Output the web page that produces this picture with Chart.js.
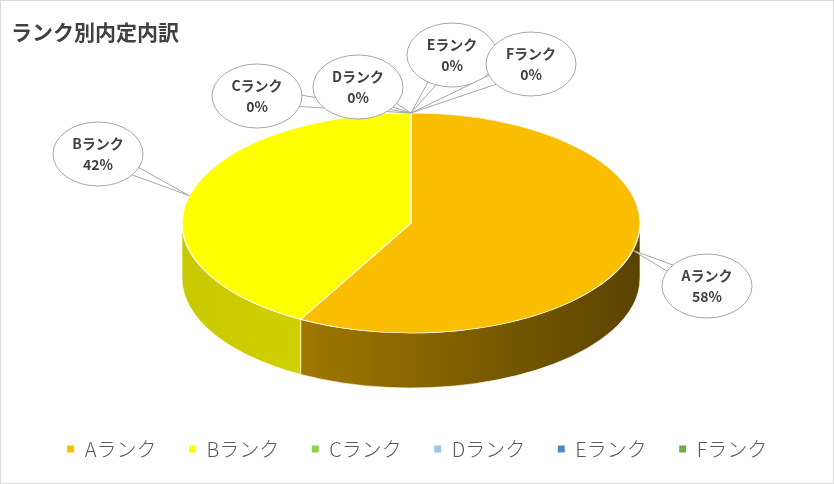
<!DOCTYPE html>
<html><head><meta charset="utf-8">
<script src="https://cdn.jsdelivr.net/npm/chart.js@4.4.1/dist/chart.umd.min.js"></script>
<style>
  html,body{margin:0;padding:0;background:#fff;}
  #wrap{position:relative;width:832px;height:482px;border:1px solid #d9d9d9;}
</style></head>
<body>
<div id="wrap"><canvas id="c" width="832" height="482"></canvas></div>
<script>
// ranks and share (%)
const categories = ["Aランク", "Bランク", "Cランク", "Dランク", "Eランク", "Fランク"];
const shares = [58, 42, 0, 0, 0, 0];
const colors = ["#fabd00", "#ffff00", "#92d050", "#9dc3e6", "#4f87c5", "#70ad47"];
const labelSpots = [[706, 285], [97, 153], [256, 95], [357, 86], [451, 54], [530, 63]];

const CX = 410, CY = 222, RX = 229, RY = 110, DEPTH = 55;
const sideColors = [["#b88a00", "#5a4300"], ["#c8c800", "#e6e600"]];

function pt(a, dy) { return [CX + RX * Math.cos(a), CY + RY * Math.sin(a) + (dy || 0)]; }

const pie3d = {
  id: "pie3d",
  beforeDatasetsDraw(chart) {
    const ctx = chart.ctx;
    const arcs = chart.getDatasetMeta(0).data;
    // side walls (front half only)
    arcs.forEach((el, i) => {
      const s = Math.max(el.startAngle, 0), e = Math.min(el.endAngle, Math.PI);
      if (e <= s) return;
      const g = ctx.createLinearGradient(CX - RX, 0, CX + RX, 0);
      const sc = sideColors[i] || [colors[i], colors[i]];
      g.addColorStop(0, sc[0]); g.addColorStop(1, sc[1]);
      ctx.save();
      ctx.beginPath();
      ctx.ellipse(CX, CY, RX, RY, 0, s, e);
      ctx.ellipse(CX, CY + DEPTH, RX, RY, 0, e, s, true);
      ctx.closePath();
      ctx.fillStyle = g; ctx.fill();
      ctx.strokeStyle = "rgba(255,255,255,0.6)"; ctx.lineWidth = 1; ctx.stroke();
      ctx.restore();
    });
    // top face, squashed into an ellipse
    arcs.forEach((el) => {
      const r = el.outerRadius;
      ctx.save();
      ctx.translate(CX, CY);
      ctx.scale(RX / r, RY / r);
      ctx.translate(-el.x, -el.y);
      el.draw(ctx);
      ctx.restore();
    });
    return false;
  },
  afterDraw(chart) {
    const ctx = chart.ctx;
    const arcs = chart.getDatasetMeta(0).data;
    arcs.forEach((el, i) => {
      const mid = (el.startAngle + el.endAngle) / 2;
      const [tx, ty] = pt(mid);
      const [lx, ly] = labelSpots[i];
      const w = 45, h = 32;
      const ang = Math.atan2(ty - ly, tx - lx);
      const p = ang + Math.PI / 2;
      ctx.save();
      ctx.fillStyle = "#fff"; ctx.strokeStyle = "#a6a6a6"; ctx.lineWidth = 1;
      ctx.beginPath();
      ctx.moveTo(lx + Math.cos(p) * 8, ly + Math.sin(p) * 8);
      ctx.lineTo(tx, ty);
      ctx.lineTo(lx - Math.cos(p) * 8, ly - Math.sin(p) * 8);
      ctx.closePath(); ctx.fill(); ctx.stroke();
      ctx.beginPath(); ctx.ellipse(lx, ly, w, h, 0, 0, Math.PI * 2);
      ctx.fill(); ctx.stroke();
      ctx.fillStyle = "#404040";
      ctx.font = "bold 14px 'Noto Sans CJK JP'";
      ctx.textAlign = "center"; ctx.textBaseline = "middle";
      ctx.fillText(categories[i], lx, ly - 10);
      ctx.fillText(shares[i] + "%", lx, ly + 11);
      ctx.restore();
    });
  }
};

new Chart(document.getElementById("c"), {
  type: "pie",
  data: {
    labels: categories,
    datasets: [{ data: shares, backgroundColor: colors, borderColor: "#ffffff", borderWidth: 1 }]
  },
  options: {
    responsive: false,
    animation: false,
    layout: { padding: { left: 10, right: 10, top: 0, bottom: 14 } },
    plugins: {
      title: {
        display: true, text: "ランク別内定内訳", align: "start", color: "#404040",
        font: { family: "'Noto Sans CJK JP'", size: 21, weight: "bold" }, padding: { top: 18, bottom: 10 }
      },
      legend: {
        position: "bottom",
        labels: {
          color: "#595959", boxWidth: 8, boxHeight: 8, padding: 32,
          font: { family: "'Noto Sans CJK JP'", size: 20, weight: "300" }
        }
      },
      tooltip: { enabled: false }
    }
  },
  plugins: [pie3d]
});
</script>
</body></html>
